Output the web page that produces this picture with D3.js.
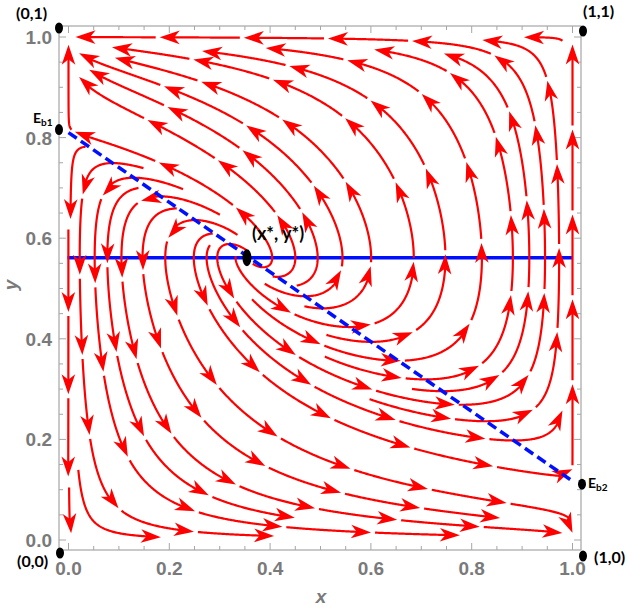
<!DOCTYPE html>
<html><head><meta charset="utf-8">
<script src="https://cdn.jsdelivr.net/npm/d3@7"></script>
<style>html,body{margin:0;padding:0;background:#fff;}svg{display:block;}</style>
</head><body>
<svg id="chart" width="629" height="608"></svg>
<script>
// ---------------- data ----------------
const interiorEq = [0.356, 0.561];          // (x*, y*)
const boundaryEqB1 = [0, 0.81];             // E_b1
const boundaryEqB2 = [1, 0.117];            // E_b2
const cornerEq = [[0,0],[1,0],[0,1],[1,1]];
const cornerLabels = ["(0,0)","(1,0)","(0,1)","(1,1)"];
const rates = [1.0, 1.0];                   // speed factors of x and y dynamics
const xTicks = [0, 0.2, 0.4, 0.6, 0.8, 1.0];
const yTicks = [0, 0.2, 0.4, 0.6, 0.8, 1.0];
const tickLabels = ["0.0","0.2","0.4","0.6","0.8","1.0"];
const minorTicks = d3.range(0, 1.0001, 0.05);

// ---------------- setup ----------------
const W = 629, H = 608;
const svg = d3.select("#chart");
const xS = d3.scaleLinear().domain([0,1]).range([68.5,572.5]);
const yS = d3.scaleLinear().domain([0,1]).range([540,37]);
const frame = {l:59, r:581, t:26, b:550};
const gray = "#7a7a7a", frameCol = "#a6a6a6";

// vector field (replicator-type dynamics with the two nullclines)
function field(x, y){
  const nullY = boundaryEqB1[1] + (boundaryEqB2[1]-boundaryEqB1[1])*x;
  return [rates[0]*x*(1-x)*(interiorEq[1]-y), rates[1]*y*(1-y)*(y-nullY)];
}
const sx = xS(1)-xS(0), sy = yS(0)-yS(1);
function dirPx(px, py){
  const f = field(xS.invert(px), yS.invert(py));
  const vx = f[0]*sx, vy = -f[1]*sy;
  const m = Math.hypot(vx, vy);
  if (m < 1e-12) return null;
  return [vx/m, vy/m];
}

// ---------------- evenly spaced streamlines ----------------
const dsep = 23, dtest = 10, h = 1, selfGap = 40, minLen = 14;
const X0 = xS(0), X1 = xS(1), Y0 = yS(1), Y1 = yS(0);
const eqPx = [[xS(interiorEq[0]), yS(interiorEq[1]), 7]]
  .concat(cornerEq.map(c => [xS(c[0]), yS(c[1]), 7]))
  .concat([[xS(boundaryEqB1[0]), yS(boundaryEqB1[1]), 4],[xS(boundaryEqB2[0]), yS(boundaryEqB2[1]), 4]]);
function inDomain(p){ return p[0]>=X0-0.3 && p[0]<=X1+0.3 && p[1]>=Y0-0.3 && p[1]<=Y1+0.3; }
function nearEq(p){ return eqPx.some(e => Math.hypot(p[0]-e[0], p[1]-e[1]) < e[2]); }
const GW = Math.ceil(W/dsep)+1, GH = Math.ceil(H/dsep)+1;
const grid = Array.from({length: GW*GH}, () => []);
function cidx(x,y){ return Math.floor(y/dsep)*GW + Math.floor(x/dsep); }
function addPoint(x,y,id,idx,touched){ const c=cidx(x,y); grid[c].push([x,y,id,idx]); touched.add(c); }
function isFree(x,y,d,id,idx){
  const cx = Math.floor(x/dsep), cy = Math.floor(y/dsep), d2 = d*d;
  for (let j=cy-1;j<=cy+1;j++) for (let i=cx-1;i<=cx+1;i++){
    if (i<0||j<0||i>=GW||j>=GH) continue;
    const cell = grid[j*GW+i];
    for (let k=0;k<cell.length;k++){
      const q = cell[k], dx=q[0]-x, dy=q[1]-y;
      if (dx*dx+dy*dy < d2){
        if (q[2]===id && Math.abs(q[3]-idx) < selfGap) continue;
        return false;
      }
    }
  }
  return true;
}
function traceLine(seed, id, touched){
  const fwd = [], bwd = [];
  addPoint(seed[0], seed[1], id, 0, touched);
  for (const sign of [1,-1]){
    let p = seed, idx = 0; const arr = sign>0 ? fwd : bwd;
    for (let s=0; s<5000; s++){
      const d1 = dirPx(p[0],p[1]); if (!d1) break;
      const m = [p[0]+sign*d1[0]*h*0.5, p[1]+sign*d1[1]*h*0.5];
      const d2 = dirPx(m[0],m[1]); if (!d2) break;
      if (d1[0]*d2[0]+d1[1]*d2[1] < 0.5) break;
      const np = [p[0]+sign*d2[0]*h, p[1]+sign*d2[1]*h];
      if (!inDomain(np) || nearEq(np)) break;
      idx += sign;
      if (!isFree(np[0],np[1],dtest,id,idx)) break;
      arr.push(np); addPoint(np[0],np[1],id,idx,touched);
      p = np;
    }
  }
  return bwd.reverse().concat([seed], fwd);
}
const lines = [], queue = [];
function trySeed(p){
  if (!inDomain(p) || nearEq(p)) return;
  if (!isFree(p[0],p[1],dsep*0.95,-1,0)) return;
  const id = lines.length, touched = new Set();
  const pts = traceLine(p, id, touched);
  if (pts.length*h < minLen){
    touched.forEach(c => { grid[c] = grid[c].filter(q => q[2]!==id); });
    return;
  }
  lines.push(pts); queue.push(pts);
}
function processQueue(){
  while (queue.length){
    const L = queue.shift();
    for (let i=0;i<L.length;i+=3){
      const a = L[Math.max(0,i-1)], b = L[Math.min(L.length-1,i+1)];
      let tx=b[0]-a[0], ty=b[1]-a[1]; const m=Math.hypot(tx,ty)||1; tx/=m; ty/=m;
      for (const s of [1,-1]) trySeed([L[i][0]-ty*dsep*s, L[i][1]+tx*dsep*s]);
    }
  }
}
trySeed([xS(0.6), yS(0.3)]);
processQueue();
for (let y=Y0; y<=Y1; y+=6) for (let x=X0; x<=X1; x+=6){ trySeed([x,y]); processQueue(); }

// ---------------- frame & ticks ----------------
const g = svg.append("g");
g.append("rect").attr("x",frame.l).attr("y",frame.t).attr("width",frame.r-frame.l).attr("height",frame.b-frame.t)
  .attr("fill","none").attr("stroke",frameCol).attr("stroke-width",1.2);
const isMajor = v => xTicks.some(t => Math.abs(t-v)<1e-6);
minorTicks.forEach(v => {
  const len = isMajor(v) ? 7 : 4;
  g.append("line").attr("x1",xS(v)).attr("x2",xS(v)).attr("y1",frame.b).attr("y2",frame.b-len).attr("stroke",frameCol);
  g.append("line").attr("x1",xS(v)).attr("x2",xS(v)).attr("y1",frame.t).attr("y2",frame.t+len).attr("stroke",frameCol);
  g.append("line").attr("y1",yS(v)).attr("y2",yS(v)).attr("x1",frame.l).attr("x2",frame.l+len).attr("stroke",frameCol);
  g.append("line").attr("y1",yS(v)).attr("y2",yS(v)).attr("x1",frame.r).attr("x2",frame.r-len).attr("stroke",frameCol);
});
const tickFont = "'Liberation Sans', Arial, sans-serif";
xTicks.forEach((v,i) => g.append("text").attr("x",xS(v)).attr("y",575).attr("text-anchor","middle")
  .attr("font-family",tickFont).attr("font-weight","bold").attr("font-size",19).attr("fill",gray).text(tickLabels[i]));
yTicks.forEach((v,i) => g.append("text").attr("x",52).attr("y",yS(v)+7).attr("text-anchor","end")
  .attr("font-family",tickFont).attr("font-weight","bold").attr("font-size",19).attr("fill",gray).text(tickLabels[i]));
g.append("text").attr("x",321).attr("y",603).attr("text-anchor","middle").attr("font-family",tickFont)
  .attr("font-weight","bold").attr("font-style","italic").attr("font-size",19).attr("fill",gray).text("x");
g.append("text").attr("transform","translate(17,285) rotate(-90)").attr("text-anchor","middle").attr("font-family",tickFont)
  .attr("font-weight","bold").attr("font-style","italic").attr("font-size",19).attr("fill",gray).text("y");

// ---------------- nullclines ----------------
const blue = "#0010ff";
g.append("line").attr("x1",xS(0)-1).attr("x2",xS(1)).attr("y1",yS(interiorEq[1])).attr("y2",yS(interiorEq[1]))
  .attr("stroke",blue).attr("stroke-width",3.5);

// ---------------- streamlines ----------------
const red = "#ff0000";
const sg = svg.append("g");
const S = 84, gap = 4;
const lineGen = d3.line();
lines.forEach(L => {
  const cum = [0];
  for (let i=1;i<L.length;i++) cum.push(cum[i-1] + Math.hypot(L[i][0]-L[i-1][0], L[i][1]-L[i-1][1]));
  const tot = cum[cum.length-1];
  if (tot < 10) return;
  const at = s => {
    let i = d3.bisectLeft(cum, s); if (i<=0) return L[0]; if (i>=L.length) return L[L.length-1];
    const t = (s-cum[i-1])/((cum[i]-cum[i-1])||1);
    return [L[i-1][0]+t*(L[i][0]-L[i-1][0]), L[i-1][1]+t*(L[i][1]-L[i-1][1])];
  };
  const n = Math.max(1, Math.round(tot/S)), seg = tot/n;
  for (let k=0;k<n;k++){
    const st = k*seg + (k>0?gap:0), en = (k+1)*seg, pl = en-st;
    const al = Math.min(20, pl*0.65), w = al*0.34;
    const tip = at(en), base = at(en-al);
    let dx = tip[0]-base[0], dy = tip[1]-base[1]; const m = Math.hypot(dx,dy)||1; dx/=m; dy/=m;
    const shaftEnd = en - al*0.7;
    const pts = [at(st)];
    for (let i=0;i<L.length;i++) if (cum[i]>st && cum[i]<shaftEnd) pts.push(L[i]);
    pts.push(at(shaftEnd));
    sg.append("path").attr("d", lineGen(pts)).attr("fill","none").attr("stroke",red).attr("stroke-width",2.2);
    const notch = [tip[0]-dx*al*0.72, tip[1]-dy*al*0.72];
    const b1 = [tip[0]-dx*al-dy*w, tip[1]-dy*al+dx*w], b2 = [tip[0]-dx*al+dy*w, tip[1]-dy*al-dx*w];
    sg.append("path").attr("d", "M"+[tip,b1,notch,b2].map(p=>p.join(",")).join("L")+"Z").attr("fill",red);
  }
});

// dashed nullcline
svg.append("line").attr("x1",xS(boundaryEqB1[0])).attr("y1",yS(boundaryEqB1[1]))
  .attr("x2",xS(boundaryEqB2[0])).attr("y2",yS(boundaryEqB2[1]))
  .attr("stroke",blue).attr("stroke-width",3.5).attr("stroke-dasharray","10,5");

// ---------------- equilibrium markers & labels ----------------
const lab = svg.append("g").attr("font-family","Lato, 'Open Sans', sans-serif").attr("font-weight","bold").attr("fill","#000");
const dot = (x,y,rx,ry) => lab.append("ellipse").attr("cx",x).attr("cy",y).attr("rx",rx).attr("ry",ry).attr("fill","#000");
// corner equilibria sit on the frame corners
const cornerPos = [[frame.l+1, frame.b+3],[frame.r+2, frame.b+6],[frame.l, frame.t+2],[frame.r+2, frame.t+5]];
const cornerText = [[17,567,"start"],[594,563,"start"],[16,19,"start"],[583,17,"start"]];
cornerEq.forEach((c,i) => {
  dot(cornerPos[i][0], cornerPos[i][1], 4, 5.5);
  lab.append("text").attr("x",cornerText[i][0]).attr("y",cornerText[i][1]).attr("font-size",16).text(cornerLabels[i]);
});
dot(frame.l, yS(boundaryEqB1[1])-3, 4, 5.5);
dot(frame.r+1, yS(boundaryEqB2[1])+3, 4, 5.5);
const e1 = lab.append("text").attr("x",33).attr("y",123).attr("font-size",14);
e1.append("tspan").text("E"); e1.append("tspan").attr("font-size",10).attr("dy",3).text("b1");
const e2 = lab.append("text").attr("x",588).attr("y",488).attr("font-size",14);
e2.append("tspan").text("E"); e2.append("tspan").attr("font-size",10).attr("dy",3).text("b2");
dot(xS(interiorEq[0])-1, yS(interiorEq[1]), 4.5, 8.5);
lab.append("text").attr("x",252).attr("y",240).attr("font-size",18).text("(x*, y*)");
</script>
</body></html>
